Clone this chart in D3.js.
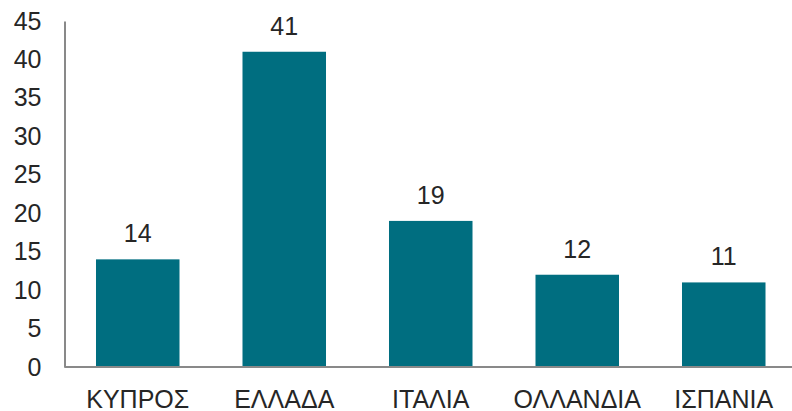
<!DOCTYPE html>
<html>
<head>
<meta charset="utf-8">
<script src="https://cdn.jsdelivr.net/npm/d3@7/dist/d3.min.js"></script>
<style>
  html, body { margin: 0; padding: 0; background: #fff; }
  svg { display: block; font-family: "Liberation Sans", Arial, sans-serif; }
</style>
</head>
<body>
<svg id="chart" width="792" height="411"></svg>
<script>
const categories = ["ΚΥΠΡΟΣ", "ΕΛΛΑΔΑ", "ΙΤΑΛΙΑ", "ΟΛΛΑΝΔΙΑ", "ΙΣΠΑΝΙΑ"];
const values = [14, 41, 19, 12, 11];
const yTicks = [0, 5, 10, 15, 20, 25, 30, 35, 40, 45];

const width = 792, height = 411;
const margin = { left: 64.5, top: 21, bottom: 44 };
const fontSize = 25;
const svg = d3.select("#chart");

const x = d3.scaleBand()
  .domain(categories)
  .range([margin.left, 797])
  .paddingInner(0.43)
  .paddingOuter(0.215);

const y = d3.scaleLinear()
  .domain([0, 45])
  .range([height - margin.bottom, margin.top]);

const textColor = "#262626";
const axisColor = "#898989";

// bars
svg.append("g").selectAll("rect")
  .data(values)
  .join("rect")
  .attr("x", (d, i) => x(categories[i]))
  .attr("y", d => y(d))
  .attr("width", x.bandwidth())
  .attr("height", d => y(0) - y(d))
  .attr("fill", "#006E80");

// value labels
svg.append("g").selectAll("text")
  .data(values)
  .join("text")
  .attr("x", (d, i) => x(categories[i]) + x.bandwidth() / 2)
  .attr("y", d => y(d) - 17)
  .attr("text-anchor", "middle")
  .attr("font-size", fontSize)
  .attr("fill", textColor)
  .text(d => d);

// y axis
const yAxis = svg.append("g")
  .attr("transform", `translate(${margin.left},0)`)
  .call(d3.axisLeft(y).tickValues(yTicks).tickSize(0).tickPadding(23));
yAxis.select(".domain").attr("stroke", axisColor).attr("stroke-width", 2);
yAxis.selectAll("text").attr("font-size", fontSize).attr("fill", textColor)
  .attr("font-family", "Liberation Sans, Arial, sans-serif");

// x axis
const xAxis = svg.append("g")
  .attr("transform", `translate(0,${y(0)})`)
  .call(d3.axisBottom(x).tickSize(0).tickPadding(23));
xAxis.select(".domain").attr("d", `M${margin.left},0H${width}`)
  .attr("stroke", axisColor).attr("stroke-width", 2);
xAxis.selectAll("text").attr("font-size", fontSize).attr("fill", textColor)
  .attr("font-family", "Liberation Sans, Arial, sans-serif");
</script>
</body>
</html>
